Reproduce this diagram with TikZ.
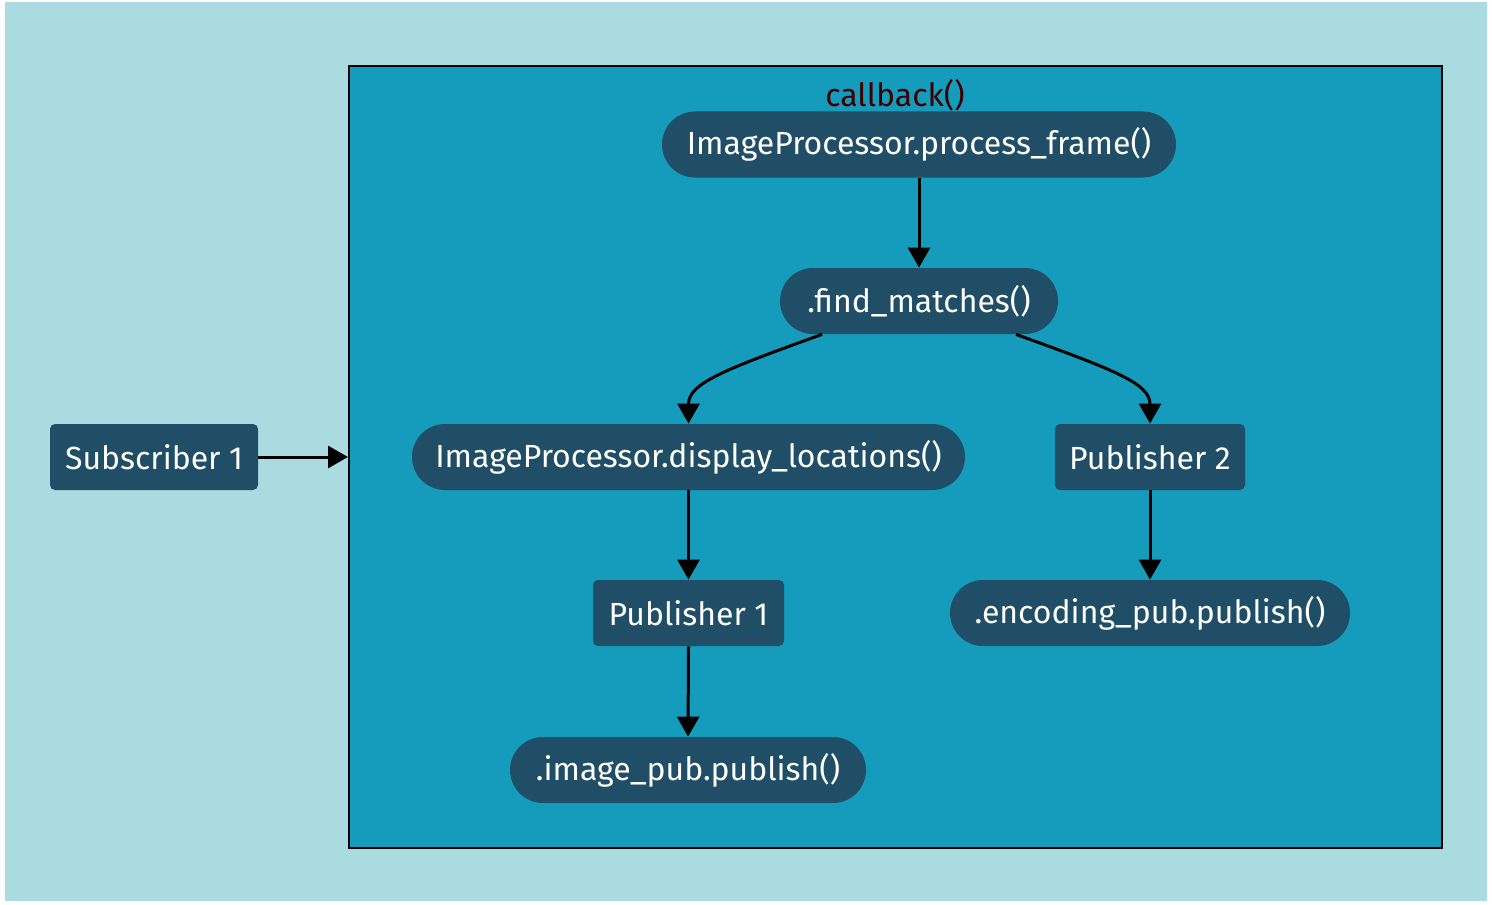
\documentclass[tikz,border=0pt]{standalone}
\usepackage{fontspec}
\setmainfont{Fira Sans}
\usetikzlibrary{arrows.meta,calc}
\definecolor{outerbg}{RGB}{170,219,224}
\definecolor{clusterbg}{RGB}{21,155,187}
\definecolor{nodebg}{RGB}{31,78,102}
\definecolor{labelred}{RGB}{60,0,0}
\tikzset{
  box/.style={draw=none,fill=nodebg,text=white,font=\fontsize{16}{19}\selectfont,
    inner sep=0pt,minimum height=33pt,rounded corners=2.5pt},
  stadium/.style={box,rounded corners=16.5pt},
  conn/.style={draw=black,line width=1.5pt,-{Triangle[length=10pt,width=11pt]}},
}
\begin{document}
\begin{tikzpicture}[x=0.5pt,y=-0.5pt]
\useasboundingbox (0,0) rectangle (1492,904);
\fill[outerbg] (5,2) rectangle (1487,901);
\node[draw=black,line width=1pt,fill=clusterbg,minimum width=546.5pt,minimum height=391pt,inner sep=0pt] (cl) at (895.5,457) {};
\node[text=labelred,font=\fontsize{16}{19}\selectfont] (cbl) at (895,95) {callback()};
\node[box,minimum width=104pt] (sub) at (154,457) {Subscriber 1};
\node[stadium,minimum width=257pt] (pf) at (919,144.5) {ImageProcessor.process\_frame()};
\node[stadium,minimum width=139pt] (fm) at (919,301) {.find\_matches()};
\node[stadium,minimum width=276.5pt] (dl) at (688.5,457) {ImageProcessor.display\_locations()};
\node[box,minimum width=95pt] (p2) at (1150,457) {Publisher 2};
\node[box,minimum width=95.5pt] (p1) at (688.5,613) {Publisher 1};
\node[stadium,minimum width=200pt] (ep) at (1150,613) {.encoding\_pub.publish()};
\node[stadium,minimum width=178pt] (ip) at (688,770) {.image\_pub.publish()};
\draw[conn] (sub.east) -- (cl.west);
\draw[conn] (pf.south) -- (fm.north);
\draw[conn] ([xshift=-48.5pt]fm.south) .. controls ($([xshift=-48.5pt]fm.south)+(-100,36)$) and ($(dl.north)+(0,-40)$) .. (dl.north);
\draw[conn] ([xshift=48.5pt]fm.south) .. controls ($([xshift=48.5pt]fm.south)+(100,36)$) and ($(p2.north)+(0,-40)$) .. (p2.north);
\draw[conn] (dl.south) -- (p1.north);
\draw[conn] (p1.south) -- (ip.north);
\draw[conn] (p2.south) -- (ep.north);
\end{tikzpicture}
\end{document}
